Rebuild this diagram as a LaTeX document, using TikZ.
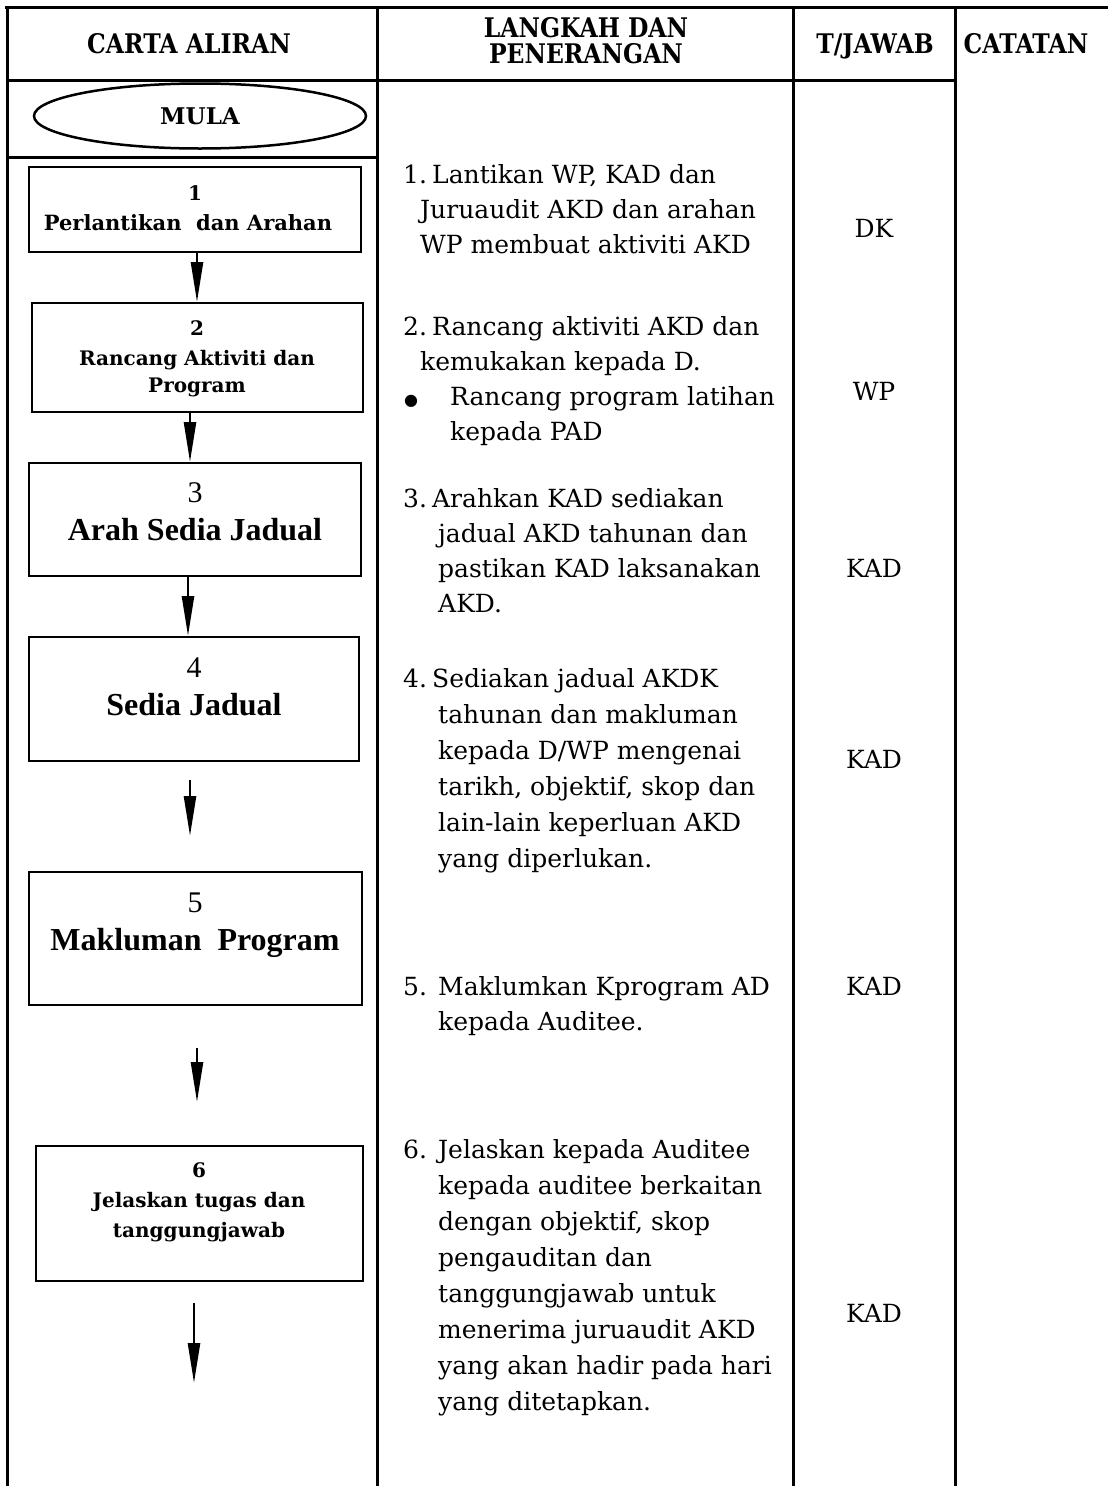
\documentclass[tikz,border=0pt]{standalone}
\usepackage{fontspec}
\setmainfont{DejaVu Serif}
\newfontfamily\hdfont{DejaVu Serif}[FakeStretch=0.87]
\newfontfamily\tmfont{Liberation Serif}
\newfontfamily\symfont{DejaVu Sans}
\usetikzlibrary{arrows.meta,shapes.geometric}

\tikzset{
  rule/.style={line width=3pt},
  flowbox/.style={draw, line width=2pt, rectangle, inner sep=0pt},
  flowarrow/.style={line width=2.5pt, -{Triangle[length=40pt,width=12pt]}},
  hdr/.style={font=\hdfont\bfseries\fontsize{27}{30}\selectfont, inner sep=0pt, anchor=base},
  body/.style={font=\fontsize{25}{35}\selectfont, inner sep=0pt, anchor=base west},
  bodywide/.style={font=\fontsize{25}{36}\selectfont, inner sep=0pt, anchor=base west},
  who/.style={font=\fontsize{25}{30}\selectfont, inner sep=0pt, anchor=base},
  boxtxt/.style={font=\bfseries\fontsize{20}{24}\selectfont, inner sep=0pt, anchor=base},
  numtm/.style={font=\tmfont\fontsize{30}{34}\selectfont, inner sep=0pt, anchor=base},
  txttm/.style={font=\tmfont\bfseries\fontsize{32}{36}\selectfont, inner sep=0pt, anchor=base},
}

\begin{document}
\begin{tikzpicture}[x=1pt, y=-1pt]
\useasboundingbox (0,0) rectangle (1108,1486);

% table rules
\draw[rule] (5,7) -- (1108,7);
\draw[rule] (7,7) -- (7,1486);
\draw[rule] (377,7) -- (377,1486);
\draw[rule] (793,7) -- (793,1486);
\draw[rule] (955,7) -- (955,1486);
\draw[rule] (7,80) -- (955,80);
\draw[rule] (7,157) -- (377,157);

% column headings
\node[hdr] (hcarta) at (189,53) {CARTA ALIRAN};
\node[hdr] (hlang1) at (586,37) {LANGKAH DAN};
\node[hdr] (hlang2) at (586,63) {PENERANGAN};
\node[hdr] (htj) at (875,53) {T/JAWAB};
\node[hdr] (hcat) at (1026,53) {CATATAN};

% flow chart
\node[draw, ellipse, line width=2.5pt, minimum width=332pt, minimum height=65pt,
      inner sep=0pt, font=\bfseries\fontsize{23}{24}\selectfont] (mula) at (200,116) {MULA};

\node[flowbox, minimum width=332pt, minimum height=85pt]  (b1) at (195,209.5) {};
\node[flowbox, minimum width=331pt, minimum height=109pt] (b2) at (197.5,357.5) {};
\node[flowbox, minimum width=332pt, minimum height=113pt] (b3) at (195,519.5) {};
\node[flowbox, minimum width=330pt, minimum height=124pt] (b4) at (194,699) {};
\node[flowbox, minimum width=333pt, minimum height=133pt] (b5) at (195.5,938.5) {};
\node[flowbox, minimum width=327pt, minimum height=135pt] (b6) at (199.5,1213.5) {};

\node[boxtxt] (n1) at (195,200) {1};
\node[boxtxt, font=\bfseries\fontsize{21}{24}\selectfont] (l1) at (188,230) {Perlantikan\ \ dan Arahan};
\node[boxtxt] (n2) at (197,335) {2};
\node[boxtxt] (l2a) at (197,365) {Rancang Aktiviti dan};
\node[boxtxt] (l2b) at (197,392) {Program};
\node[numtm] (n3) at (195,502) {3};
\node[txttm] (l3) at (195,540) {Arah Sedia Jadual};
\node[numtm] (n4) at (194,677) {4};
\node[txttm] (l4) at (194,715) {Sedia Jadual};
\node[numtm] (n5) at (195,912) {5};
\node[txttm] (l5) at (195,950) {Makluman\ \ Program};
\node[boxtxt] (n6) at (199,1177) {6};
\node[boxtxt] (l6a) at (199,1207) {Jelaskan tugas dan};
\node[boxtxt] (l6b) at (199,1237) {tanggungjawab};

\coordinate (end6) at (194,1383);

\draw[flowarrow] ([xshift=2pt]b1.south) -- ([xshift=2pt]b1.south |- b2.north);
\draw[flowarrow] ([xshift=-7.5pt]b2.south) -- ([xshift=-7.5pt]b2.south |- b3.north);
\draw[flowarrow] ([xshift=-7pt]b3.south) -- ([xshift=-7pt]b3.south |- b4.north);
\draw[flowarrow, shorten <=18pt, shorten >=35pt] ([xshift=-4pt]b4.south) -- ([xshift=-4pt]b4.south |- b5.north);
\draw[flowarrow, shorten <=42pt, shorten >=43pt] ([xshift=1.5pt]b5.south) -- ([xshift=1.5pt]b5.south |- b6.north);
\draw[flowarrow, shorten <=21pt] ([xshift=-5.5pt]b6.south) -- (end6);

% steps and explanations
\node[body] (s1) at (403,183) {\begin{tabular}[t]{@{}l@{}}
\makebox[29pt][l]{1.}Lantikan WP, KAD dan\\
\hspace*{17pt}Juruaudit AKD dan arahan\\
\hspace*{17pt}WP membuat aktiviti AKD
\end{tabular}};

\node[body] (s2) at (403,335) {\begin{tabular}[t]{@{}l@{}}
\makebox[29pt][l]{2.}Rancang aktiviti AKD dan\\
\hspace*{17pt}kemukakan kepada D.\\
\makebox[47pt][l]{\hspace*{1pt}{\symfont\fontsize{16}{16}\selectfont ●}}Rancang program latihan\\
\hspace*{47pt}kepada PAD
\end{tabular}};

\node[body] (s3) at (403,507) {\begin{tabular}[t]{@{}l@{}}
\makebox[29pt][l]{3.}Arahkan KAD sediakan\\
\hspace*{35pt}jadual AKD tahunan dan\\
\hspace*{35pt}pastikan KAD laksanakan\\
\hspace*{35pt}AKD.
\end{tabular}};

\node[bodywide] (s4) at (403,687) {\begin{tabular}[t]{@{}l@{}}
\makebox[29pt][l]{4.}Sediakan jadual AKDK\\
\hspace*{35pt}tahunan dan makluman\\
\hspace*{35pt}kepada D/WP mengenai\\
\hspace*{35pt}tarikh, objektif, skop dan\\
\hspace*{35pt}lain-lain keperluan AKD\\
\hspace*{35pt}yang diperlukan.
\end{tabular}};

\node[body] (s5) at (403,995) {\begin{tabular}[t]{@{}l@{}}
\makebox[35pt][l]{5.}Maklumkan Kprogram AD\\
\hspace*{35pt}kepada Auditee.
\end{tabular}};

\node[bodywide] (s6) at (403,1158) {\begin{tabular}[t]{@{}l@{}}
\makebox[35pt][l]{6.}Jelaskan kepada Auditee\\
\hspace*{35pt}kepada auditee berkaitan\\
\hspace*{35pt}dengan objektif, skop\\
\hspace*{35pt}pengauditan dan\\
\hspace*{35pt}tanggungjawab untuk\\
\hspace*{35pt}menerima juruaudit AKD\\
\hspace*{35pt}yang akan hadir pada hari\\
\hspace*{35pt}yang ditetapkan.
\end{tabular}};

% responsibility column
\node[who] (r1) at (874,237) {DK};
\node[who] (r2) at (874,400) {WP};
\node[who] (r3) at (874,577) {KAD};
\node[who] (r4) at (874,768) {KAD};
\node[who] (r5) at (874,995) {KAD};
\node[who] (r6) at (874,1322) {KAD};
\end{tikzpicture}
\end{document}
